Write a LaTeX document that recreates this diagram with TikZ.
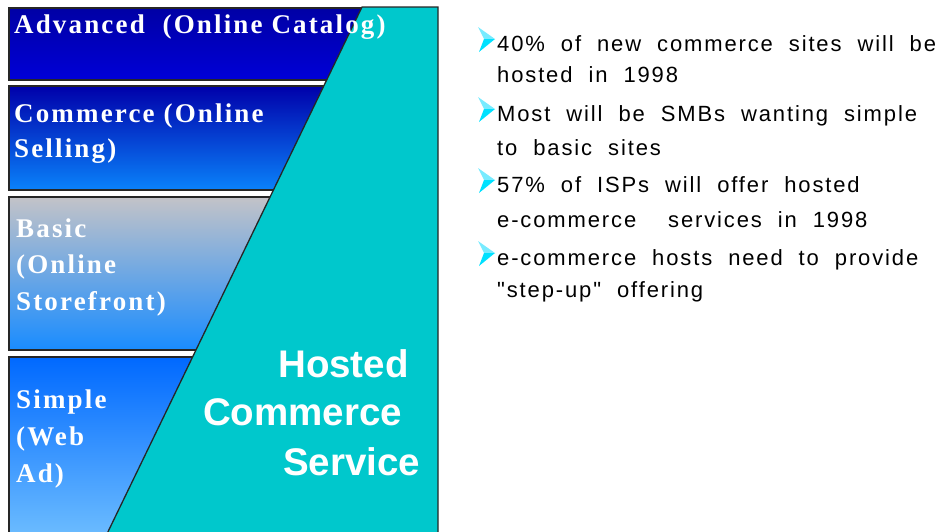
\documentclass[tikz,border=0pt]{standalone}
\usepackage{fontspec}
\setmainfont{Liberation Serif}
\newfontfamily\boxfont{Liberation Serif}[LetterSpace=8]
\newfontfamily\notefont{Liberation Sans}[LetterSpace=8.5,WordSpace=2]
\newfontfamily\hostfont{Liberation Sans}
\definecolor{hostcyan}{RGB}{0,200,204}
\definecolor{bulcyan}{RGB}{0,225,255}
\definecolor{bullight}{RGB}{120,235,255}
\definecolor{advtop}{RGB}{0,0,165}
\definecolor{advbot}{RGB}{0,0,215}
\definecolor{comtop}{RGB}{0,0,170}
\definecolor{combot}{RGB}{10,130,250}
\definecolor{bastop}{RGB}{195,195,200}
\definecolor{basbot}{RGB}{25,140,255}
\definecolor{simtop}{RGB}{0,105,255}
\definecolor{simbot}{RGB}{110,190,255}
\tikzset{
    arrowbul/.pic={
        \fill[bullight] (-19,-24) -- (-2,-12) -- (-13,-12) -- cycle;
        \fill[bulcyan] (-13,-12) -- (-2,-12) -- (-18,1) -- cycle;
    }
}

\begin{document}
\begin{tikzpicture}[x=1pt,y=-1pt]
    \useasboundingbox (0,0) rectangle (947,531);
    \begin{scope}[draw=black!85, line width=1.3pt]
        \shade[top color=advtop, bottom color=advbot, draw] (9,8) rectangle (420,80);
        \shade[top color=comtop, bottom color=combot, draw] (9,86) rectangle (420,190);
        \shade[top color=bastop, bottom color=basbot, draw] (9,197) rectangle (420,350);
        \shade[top color=simtop, bottom color=simbot, draw] (9,357) rectangle (420,540);
        \filldraw[fill=hostcyan] (362,7) -- (438,7) -- (438,540) -- (104,540) -- cycle;
    \end{scope}
    \begin{scope}[every node/.style={anchor=base west, inner sep=0pt, text=white,
            font=\boxfont\bfseries\fontsize{27}{30}\selectfont}]
        \draw
        (14,33) node(adv){Advanced \ (Online Catalog)}
        (14,122) node(com1){Commerce (Online}
        (14,157) node(com2){Selling)}
        (16,237) node(bas1){Basic}
        (16,273) node(bas2){(Online}
        (16,310) node(bas3){Storefront)}
        (16,408) node(sim1){Simple}
        (16,445) node(sim2){(Web}
        (16,482) node(sim3){Ad)}
        ;
    \end{scope}
    \begin{scope}[every node/.style={anchor=base west, inner sep=0pt, text=white,
            font=\hostfont\bfseries\fontsize{38.5}{40}\selectfont}]
        \draw
        (278,377) node(hosted){Hosted}
        (203,425) node(commerce){Commerce}
        (283,475) node(service){Service}
        ;
    \end{scope}
    \begin{scope}[every node/.style={anchor=base west, inner sep=0pt,
            font=\notefont\fontsize{22}{26}\selectfont}]
        \draw
        (497,51) node(n1){40\% of new commerce sites will be}
        (497,82) node(n1b){hosted in 1998}
        (497,121) node(n2){Most will be SMBs wanting simple}
        (497,155) node(n2b){to basic sites}
        (497,192) node(n3){57\% of ISPs will offer hosted}
        (497,227) node(n3b){e-commerce \ services in 1998}
        (497,265) node(n4){e-commerce hosts need to provide}
        (497,297) node(n4b){"step-up" offering}
        ;
        \pic at (n1.base west) {arrowbul};
        \pic at (n2.base west) {arrowbul};
        \pic at (n3.base west) {arrowbul};
        \pic at (n4.base west) {arrowbul};
    \end{scope}
\end{tikzpicture}
\end{document}
